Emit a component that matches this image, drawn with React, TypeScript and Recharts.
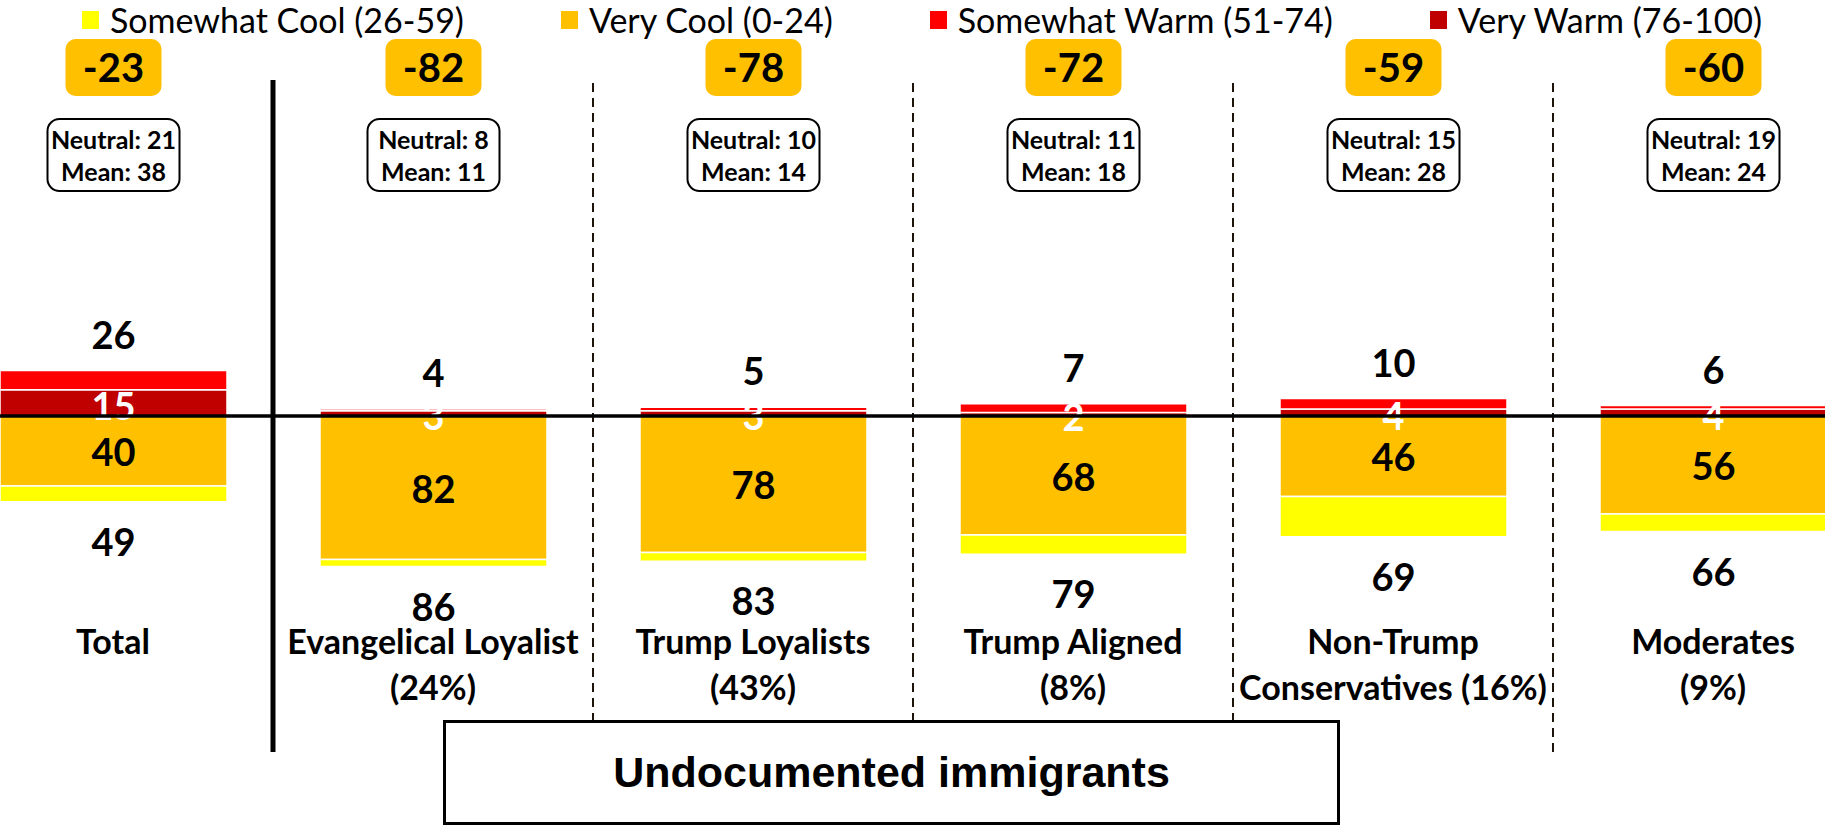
import React from 'react';
import { BarChart, Bar, XAxis, YAxis, ReferenceLine, LabelList } from 'recharts';

// ---------- data ----------
const categories = ['Total', 'Evangelical Loyalist', 'Trump Loyalists', 'Trump Aligned', 'Non-Trump', 'Moderates'];
const categorySubLabels = ['', '(24%)', '(43%)', '(8%)', 'Conservatives (16%)', '(9%)'];
const veryWarm = [15, 3, 3, 2, 4, 4];
const somewhatWarm = [11, 1, 2, 5, 6, 2];
const veryCool = [40, 82, 78, 68, 46, 56];
const somewhatCool = [9, 4, 5, 11, 23, 10];
const warmTotals = [26, 4, 5, 7, 10, 6];
const coolTotals = [49, 86, 83, 79, 69, 66];
const netScores = [-23, -82, -78, -72, -59, -60];
const neutralValues = [21, 8, 10, 11, 15, 19];
const meanValues = [38, 11, 14, 18, 28, 24];
// dividers sit at the start of these categories (first one solid, the rest dashed)
const dividerCategories = ['Evangelical Loyalist', 'Trump Loyalists', 'Trump Aligned', 'Non-Trump', 'Moderates'];
const legendNames = ['Somewhat Cool (26-59)', 'Very Cool (0-24)', 'Somewhat Warm (51-74)', 'Very Warm (76-100)'];
const legendColors = ['#FFFF00', '#FFC000', '#FF0000', '#C00000'];
const chartTitle = 'Undocumented immigrants';

const data = categories.map((name, i) => ({
  name,
  veryWarm: veryWarm[i],
  somewhatWarm: somewhatWarm[i],
  veryCool: -veryCool[i],
  somewhatCool: -somewhatCool[i],
}));

const FONT = "Lato, 'Noto Sans', sans-serif";

const rectOf = (p: any) => {
  const vb = p && p.viewBox && p.viewBox.width !== undefined ? p.viewBox : p;
  const x = Number(vb.x);
  const y = Number(vb.y);
  const w = Number(vb.width);
  const h = Number(vb.height);
  return { cx: x + w / 2, top: Math.min(y, y + h), bottom: Math.max(y, y + h) };
};

const valueStyle = { fontFamily: FONT, fontWeight: 700, fontSize: 38 } as const;
const boxTextStyle = { fontFamily: FONT, fontWeight: 700, fontSize: 25 } as const;

const VeryWarmLabel = (p: any) => {
  const r = rectOf(p);
  return (
    <text x={r.cx} y={(r.top + r.bottom) / 2 + 17} textAnchor="middle" fill="#fff" style={valueStyle}>
      {p.value}
    </text>
  );
};

const VeryCoolLabel = (p: any) => {
  const r = rectOf(p);
  return (
    <text x={r.cx} y={(r.top + r.bottom) / 2 + 15} textAnchor="middle" fill="#000" style={valueStyle}>
      {Math.abs(Number(p.value))}
    </text>
  );
};

const TopLabel = (p: any) => {
  const r = rectOf(p);
  const i = Number(p.index);
  return (
    <g>
      <text x={r.cx} y={r.top - 22} textAnchor="middle" fill="#000" style={valueStyle}>
        {warmTotals[i]}
      </text>
      <rect x={r.cx - 48} y={39} width={96} height={57} rx={10} ry={10} fill="#FFC000" />
      <text x={r.cx} y={82} textAnchor="middle" fill="#000" style={{ ...valueStyle, fontSize: 40 }}>
        {netScores[i]}
      </text>
      <rect x={r.cx - 66} y={119} width={132} height={72} rx={12} ry={12} fill="#fff" stroke="#000" strokeWidth={2} />
      <text x={r.cx} y={149} textAnchor="middle" fill="#000" style={boxTextStyle}>
        {`Neutral: ${neutralValues[i]}`}
      </text>
      <text x={r.cx} y={181} textAnchor="middle" fill="#000" style={boxTextStyle}>
        {`Mean: ${meanValues[i]}`}
      </text>
    </g>
  );
};

const BottomLabel = (p: any) => {
  const r = rectOf(p);
  const i = Number(p.index);
  return (
    <text x={r.cx} y={r.bottom + 54} textAnchor="middle" fill="#000" style={valueStyle}>
      {coolTotals[i]}
    </text>
  );
};

const CategoryTick = (props: any) => {
  const { x, payload } = props;
  let i = payload && payload.index !== undefined ? Number(payload.index) : -1;
  if (!(i >= 0)) i = categories.indexOf(payload.value);
  const st = { fontFamily: FONT, fontWeight: 700, fontSize: 34 } as const;
  return (
    <g>
      <text x={x} y={654} textAnchor="middle" fill="#000" style={st}>
        {categories[i]}
      </text>
      {categorySubLabels[i] ? (
        <text x={x} y={700} textAnchor="middle" fill="#000" style={st}>
          {categorySubLabels[i]}
        </text>
      ) : null}
    </g>
  );
};

export default function App() {
  return (
    <div style={{ position: 'absolute', left: 0, top: 0, width: 1825, height: 826, overflow: 'hidden', background: '#fff' }}>
      <div style={{ position: 'absolute', left: -47, top: 0 }}>
        <BarChart
          width={1920}
          height={826}
          data={data}
          stackOffset="sign"
          barSize={227}
          margin={{ top: 80, right: 0, bottom: 44, left: 0 }}
        >
          <XAxis dataKey="name" axisLine={false} tickLine={false} height={30} interval={0} tick={<CategoryTick />} />
          <YAxis hide domain={[-192, 192]} />
          {dividerCategories.map((c, k) => (
            <ReferenceLine
              key={c}
              x={c}
              position="start"
              ifOverflow="visible"
              stroke={k === 0 ? '#000' : '#1d140b'}
              strokeWidth={k === 0 ? 5 : 2}
              strokeDasharray={k === 0 ? undefined : '9 6'}
            />
          ))}
          <Bar dataKey="veryWarm" stackId="s" fill="#C00000" stroke="#fff" strokeWidth={1.5} isAnimationActive={false}>
            <LabelList dataKey="veryWarm" content={<VeryWarmLabel />} />
          </Bar>
          <Bar dataKey="somewhatWarm" stackId="s" fill="#FF0000" stroke="#fff" strokeWidth={1.5} isAnimationActive={false}>
            <LabelList dataKey="somewhatWarm" content={<TopLabel />} />
          </Bar>
          <Bar dataKey="veryCool" stackId="s" fill="#FFC000" stroke="#fff" strokeWidth={1.5} isAnimationActive={false}>
            <LabelList dataKey="veryCool" content={<VeryCoolLabel />} />
          </Bar>
          <Bar dataKey="somewhatCool" stackId="s" fill="#FFFF00" stroke="#fff" strokeWidth={1.5} isAnimationActive={false}>
            <LabelList dataKey="somewhatCool" content={<BottomLabel />} />
          </Bar>
          <ReferenceLine y={0} stroke="#000" strokeWidth={3.5} ifOverflow="visible" zIndex={2500} />
        </BarChart>
      </div>
      <div
        style={{
          position: 'absolute',
          left: 82,
          top: 2,
          height: 36,
          display: 'flex',
          alignItems: 'center',
          fontFamily: FONT,
          fontSize: 34,
          lineHeight: '36px',
          color: '#000',
          whiteSpace: 'nowrap',
        }}
      >
        {legendNames.map((n, i) => (
          <div key={n} style={{ display: 'flex', alignItems: 'center', marginRight: 97 }}>
            <div style={{ width: 17, height: 18, background: legendColors[i], marginRight: 11 }} />
            <span>{n}</span>
          </div>
        ))}
      </div>
      <div
        style={{
          position: 'absolute',
          left: 443,
          top: 720,
          width: 897,
          height: 105,
          boxSizing: 'border-box',
          border: '3px solid #000',
          background: '#fff',
          display: 'flex',
          alignItems: 'center',
          justifyContent: 'center',
          fontFamily: "'Liberation Sans', Arial, sans-serif",
          fontWeight: 700,
          fontSize: 43,
          color: '#000',
        }}
      >
        {chartTitle}
      </div>
    </div>
  );
}
